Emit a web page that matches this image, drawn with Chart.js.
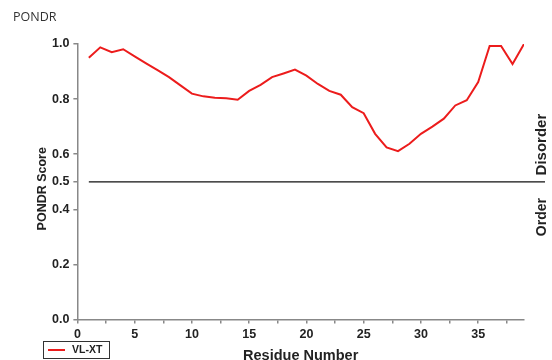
<!DOCTYPE html>
<html>
<head>
<meta charset="utf-8">
<script src="https://cdn.jsdelivr.net/npm/chart.js@4"></script>
<style>
  html, body { margin: 0; padding: 0; background: #fff; }
  #wrap { width: 552px; height: 360px; position: relative; }
</style>
</head>
<body>
<div id="wrap"><canvas id="c" width="552" height="360"></canvas></div>
<script>
const residues = [1,2,3,4,5,6,7,8,9,10,11,12,13,14,15,16,17,18,19,20,21,22,23,24,25,26,27,28,29,30,31,32,33,34,35,36,37,38,39];
const vlxtScores = [0.950,0.988,0.970,0.981,0.955,0.930,0.905,0.880,0.850,0.820,0.810,0.805,0.803,0.798,0.830,0.852,0.880,0.893,0.907,0.885,0.855,0.830,0.816,0.771,0.749,0.674,0.625,0.611,0.638,0.674,0.700,0.729,0.777,0.796,0.862,0.993,0.993,0.927,1.000];
const yTickValues = [0.0,0.2,0.4,0.5,0.6,0.8,1.0];
const threshold = 0.5;
const seriesLabel = 'VL-XT';
const regionLabels = ['Disorder','Order'];

const FONT = '"Liberation Sans", Arial, sans-serif';

const extras = {
  id: 'extras',
  afterDraw(chart) {
    const ctx = chart.ctx, xs = chart.scales.x, ys = chart.scales.y, ca = chart.chartArea;
    ctx.save();
    // threshold line
    const yT = ys.getPixelForValue(threshold);
    ctx.strokeStyle = '#111';
    ctx.lineWidth = 1.2;
    ctx.beginPath();
    ctx.moveTo(xs.getPixelForValue(residues[0]), yT);
    ctx.lineTo(ca.right + 21, yT);
    ctx.stroke();
    // region labels
    ctx.fillStyle = '#222';
    ctx.textAlign = 'center';
    ctx.textBaseline = 'middle';
    const lx = ca.right + 18;
    [[regionLabels[0], ys.getPixelForValue(0.635), 15], [regionLabels[1], ys.getPixelForValue(0.372), 14]].forEach(([t, y, fs]) => {
      ctx.save();
      ctx.font = 'bold ' + fs + 'px ' + FONT;
      ctx.translate(lx, y);
      ctx.rotate(-Math.PI / 2);
      ctx.fillText(t, 0, 0);
      ctx.restore();
    });
    // legend box
    const bx = 43, by = 341, bw = 66, bh = 17;
    ctx.strokeStyle = '#333';
    ctx.lineWidth = 1;
    ctx.strokeRect(bx + 0.5, by + 0.5, bw, bh);
    ctx.strokeStyle = chart.data.datasets[0].borderColor;
    ctx.lineWidth = 2;
    ctx.beginPath();
    ctx.moveTo(bx + 5, by + 9);
    ctx.lineTo(bx + 22, by + 9);
    ctx.stroke();
    ctx.fillStyle = '#222';
    ctx.font = 'bold 10.5px ' + FONT;
    ctx.textAlign = 'left';
    ctx.fillText(chart.data.datasets[0].label, bx + 29, by + 9.5);
    // top-left title
    ctx.fillStyle = '#333';
    ctx.font = '12.5px "Open Sans", sans-serif';
    ctx.textBaseline = 'alphabetic';
    ctx.fillText('PONDR', 13, 21);
    ctx.restore();
  }
};

new Chart(document.getElementById('c'), {
  type: 'line',
  data: {
    datasets: [{
      label: seriesLabel,
      data: residues.map((r, i) => ({x: r, y: vlxtScores[i]})),
      borderColor: '#ec1c1c',
      borderWidth: 2,
      pointRadius: 0,
      tension: 0,
      fill: false
    }]
  },
  options: {
    responsive: false,
    animation: false,
    devicePixelRatio: 1,
    layout: { padding: { top: 44, right: 28, left: 35, bottom: -5 } },
    plugins: { legend: { display: false }, tooltip: { enabled: false } },
    scales: {
      x: {
        type: 'linear',
        min: 0, max: 39,
        afterBuildTicks(axis) {
          const t = [];
          for (let v = 0; v <= 37.5; v += 2.5) t.push({value: v});
          axis.ticks = t;
        },
        ticks: {
          autoSkip: false, maxRotation: 0,
          callback: v => (v % 5 === 0 ? String(v) : ''),
          color: '#222', font: { family: FONT, size: 12.5, weight: 'bold' }, padding: 3
        },
        grid: { display: true, drawOnChartArea: false, drawTicks: true, tickLength: 4, color: '#888', lineWidth: 1.5 },
        border: { display: true, color: '#888', width: 1.5 },
        title: { display: true, text: 'Residue Number', color: '#222', font: { family: FONT, size: 14.5, weight: 'bold' }, padding: { top: 3, bottom: 0 } }
      },
      y: {
        type: 'linear',
        min: 0, max: 1,
        afterBuildTicks(axis) { axis.ticks = yTickValues.map(v => ({value: v})); },
        ticks: {
          autoSkip: false,
          callback: v => Number(v).toFixed(1),
          color: '#222', font: { family: FONT, size: 12.5, weight: 'bold' }, padding: 4
        },
        grid: { display: true, drawOnChartArea: false, drawTicks: true, tickLength: 4, color: '#888', lineWidth: 1.5 },
        border: { display: true, color: '#888', width: 1.5 },
        title: { display: true, text: 'PONDR Score    ', color: '#222', font: { family: FONT, size: 12.5, weight: 'bold' }, padding: { top: 0, bottom: -2 } }
      }
    }
  },
  plugins: [extras]
});
</script>
</body>
</html>
